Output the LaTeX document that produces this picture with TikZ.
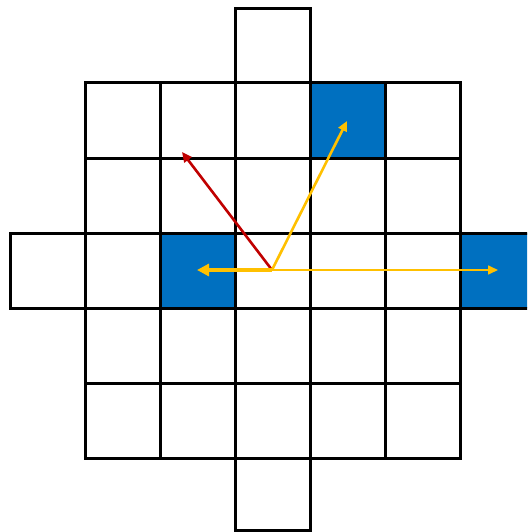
\documentclass[tikz,border=0pt]{standalone}
\usetikzlibrary{arrows.meta}
\definecolor{cellblue}{RGB}{0,112,192}
\definecolor{arrred}{RGB}{192,0,0}
\definecolor{arryel}{RGB}{255,192,0}
\tikzset{
  cell/.style={draw=black,line width=3pt},
  bluecell/.style={cell,fill=cellblue},
  vec/.style={line width=2.6pt,-{Triangle[length=10pt,width=9pt]}},
}
\begin{document}
\begin{tikzpicture}[x=1pt,y=-1pt]
\useasboundingbox (0,0) rectangle (527,532);
\clip (0,0) rectangle (527,532);
% 5x5 block
\foreach \i in {0,...,4}{
  \foreach \j in {0,...,4}{
    \draw[cell] ({85+75*\i},{83+75*\j}) rectangle ++(75,75);
  }
}
% top and bottom cells
\draw[cell] (235,8.5) rectangle (310,83);
\draw[cell] (235,458) rectangle (310,530.5);
% middle row extensions
\draw[cell] (10,233) rectangle (85,308);
\draw[bluecell] (460,233) rectangle (540,308);
% blue cells
\draw[bluecell] (310,83) rectangle (385,158);
\draw[bluecell] (160,233) rectangle (235,308);
% vectors
\coordinate (o) at (272,270);
\coordinate (r) at (182,152);
\coordinate (y1) at (347,121);
\coordinate (y2) at (197,270);
\coordinate (y3) at (498,270);
\draw[vec,arrred] (o) -- (r);
\draw[vec,arryel] (o) -- (y1);
\draw[vec,arryel,line width=4pt,-{Triangle[length=12pt,width=12pt]}] (o) -- (y2);
\draw[arryel,line width=1.6pt,-{Triangle[length=10pt,width=9pt]}] (o) -- (y3);
\end{tikzpicture}
\end{document}
